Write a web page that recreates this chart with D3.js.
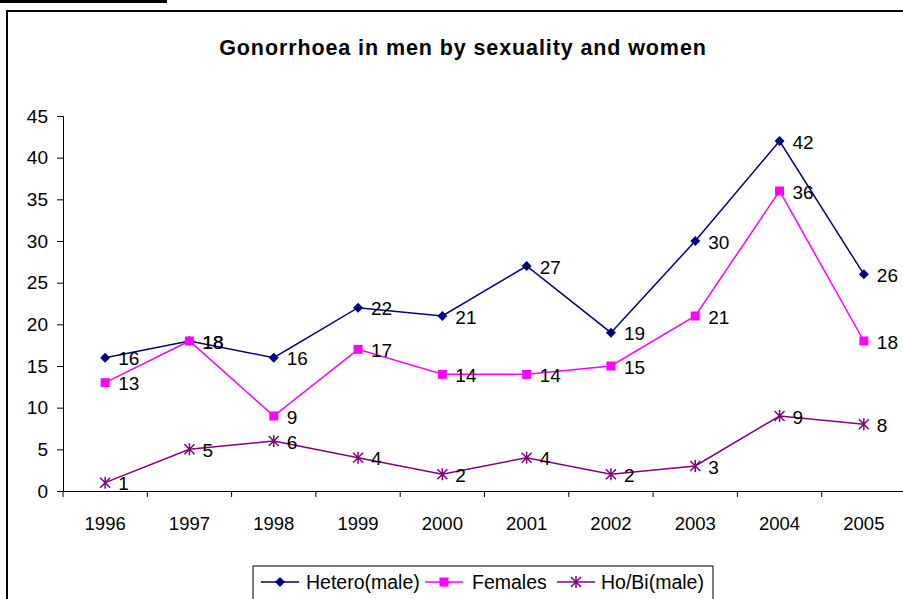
<!DOCTYPE html>
<html><head><meta charset="utf-8">
<script src="https://cdn.jsdelivr.net/npm/d3@7"></script>
<style>body{margin:0;background:#fff;}svg{display:block;font-family:Arial,"Liberation Sans",sans-serif;}</style>
</head><body>
<svg id="c" width="903" height="599"></svg>
<script>
const years = ["1996","1997","1998","1999","2000","2001","2002","2003","2004","2005"];
const hetero = [16,18,16,22,21,27,19,30,42,26];
const females = [13,18,9,17,14,14,15,21,36,18];
const hobi = [1,5,6,4,2,4,2,3,9,8];
const yTicks = [0,5,10,15,20,25,30,35,40,45];
const seriesNames = ["Hetero(male)","Females","Ho/Bi(male)"];

(function(){
const FONT = "Arial, 'Liberation Sans', sans-serif";
const series = [
  {name: seriesNames[0], values: hetero, color: "#000080", marker: "diamond"},
  {name: seriesNames[1], values: females, color: "#FF00FF", marker: "square"},
  {name: seriesNames[2], values: hobi, color: "#800080", marker: "star"}
];

const svg = d3.select("#c");
svg.append("rect").attr("x",0).attr("y",0).attr("width",167).attr("height",3).attr("fill","#000");
svg.append("line").attr("x1",7).attr("x2",7).attr("y1",10).attr("y2",599).attr("stroke","#000").attr("stroke-width",2);
svg.append("line").attr("x1",6).attr("x2",903).attr("y1",11).attr("y2",11).attr("stroke","#000").attr("stroke-width",2);

svg.append("text").attr("x",463).attr("y",55).attr("text-anchor","middle")
  .attr("font-size",21.5).attr("font-weight","bold").attr("letter-spacing",0.9).attr("font-family",FONT)
  .text("Gonorrhoea in men by sexuality and women");

const pl = 63, pr = 906, pt = 116, pb = 491;
const x = d3.scaleBand().domain(years).range([pl, pr]);
const y = d3.scaleLinear().domain([0,45]).range([pb, pt]);

const yAxis = svg.append("g").attr("transform",`translate(${pl},0)`)
  .call(d3.axisLeft(y).tickValues(yTicks).tickSize(6).tickPadding(9).tickFormat(d3.format("d")));
yAxis.selectAll("text").attr("font-size",19).attr("fill","#000").attr("font-family",FONT);
yAxis.select(".domain").attr("stroke","#000");

const xAxis = svg.append("g").attr("transform",`translate(0,${pb})`)
  .call(d3.axisBottom(x).tickSize(0).tickPadding(26));
xAxis.selectAll("text").attr("font-size",18.5).attr("fill","#000").attr("font-family",FONT);
xAxis.select(".domain").attr("stroke","#000");
xAxis.selectAll(".sep").data(d3.range(years.length+1)).enter().append("line")
  .attr("x1",i=>pl + i*x.bandwidth()).attr("x2",i=>pl + i*x.bandwidth())
  .attr("y1",0).attr("y2",6).attr("stroke","#000");

const cx = (i) => x(years[i]) + x.bandwidth()/2;

function marker(g, s, px, py){
  if (s.marker === "diamond") {
    g.append("path").attr("d",`M${px},${py-5}L${px+5},${py}L${px},${py+5}L${px-5},${py}Z`).attr("fill",s.color);
  } else if (s.marker === "square") {
    g.append("rect").attr("x",px-4.5).attr("y",py-4.5).attr("width",9).attr("height",9).attr("fill",s.color);
  } else {
    const r = 5;
    g.append("path").attr("d",`M${px-r},${py-r}L${px+r},${py+r}M${px-r},${py+r}L${px+r},${py-r}M${px},${py-r-1}L${px},${py+r+1}`)
      .attr("stroke",s.color).attr("stroke-width",1.5);
  }
}

series.forEach(s => {
  const line = d3.line().x((d,i)=>cx(i)).y(d=>y(d));
  svg.append("path").datum(s.values).attr("d",line).attr("fill","none").attr("stroke",s.color).attr("stroke-width",1.5);
});

series.forEach(s => {
  const g = svg.append("g");
  s.values.forEach((v,i) => {
    const px = cx(i), py = y(v);
    marker(g, s, px, py);
    g.append("text").attr("x",px+13).attr("y",py).attr("dy","0.4em").attr("font-size",19).attr("font-family",FONT).attr("fill","#000").text(v);
  });
});

const lg = svg.append("g");
lg.append("rect").attr("x",253).attr("y",566).attr("width",460).attr("height",40).attr("fill","#fff").attr("stroke","#000");
[[261,306],[425,472],[557,601]].forEach((p,k)=>{
  const s = series[k];
  const ly = 582, xx = p[0];
  lg.append("line").attr("x1",xx).attr("x2",xx+38).attr("y1",ly).attr("y2",ly).attr("stroke",s.color).attr("stroke-width",1.5);
  marker(lg, s, xx+19, ly);
  lg.append("text").attr("x",p[1]).attr("y",ly).attr("dy","0.36em").attr("font-size",19.5).attr("font-family",FONT).attr("fill","#000").text(s.name);
});
})();
</script>
</body></html>
